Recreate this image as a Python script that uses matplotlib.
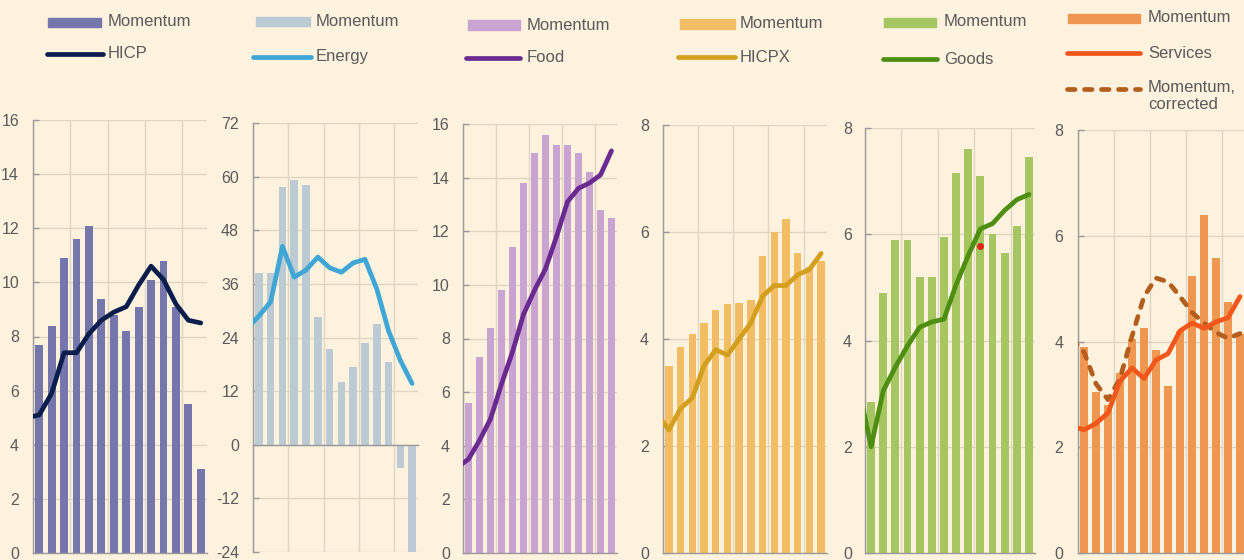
import numpy as np
import matplotlib
matplotlib.use("Agg")
import matplotlib.pyplot as plt
from matplotlib.lines import Line2D
from matplotlib.patches import Rectangle

plt.rcParams['font.family'] = ['Liberation Sans', 'DejaVu Sans']
plt.rcParams['axes.unicode_minus'] = False

# ---------------- data ----------------
months = ['Jan 22', 'Feb 22', 'Mar 22', 'Apr 22', 'May 22', 'Jun 22', 'Jul 22',
          'Aug 22', 'Sep 22', 'Oct 22', 'Nov 22', 'Dec 22', 'Jan 23', 'Feb 23']
line_months = ['Dec 21'] + months

hicp_momentum = [7.7, 8.4, 10.9, 11.6, 12.1, 9.4, 8.8, 8.2, 9.1, 10.1, 10.8, 9.1, 5.5, 3.1]
hicp = [5.0, 5.1, 5.9, 7.4, 7.4, 8.1, 8.6, 8.9, 9.1, 9.9, 10.6, 10.1, 9.2, 8.6, 8.5]

energy_momentum = [38.5, 38.5, 57.6, 59.3, 58.1, 28.5, 21.4, 14.0, 17.3, 22.7, 27.0, 18.5, -5.3, -25.0]
energy = [26.0, 28.8, 32.0, 44.4, 37.5, 39.1, 42.0, 39.6, 38.6, 40.7, 41.5, 34.9, 25.5, 18.9, 13.7]

food_momentum = [5.6, 7.3, 8.4, 9.8, 11.4, 13.8, 14.9, 15.6, 15.2, 15.2, 14.9, 14.2, 12.8, 12.5]
food = [3.2, 3.5, 4.2, 5.0, 6.3, 7.5, 8.9, 9.8, 10.6, 11.8, 13.1, 13.6, 13.8, 14.1, 15.0]

hicpx_momentum = [3.5, 3.85, 4.1, 4.3, 4.55, 4.65, 4.68, 4.73, 5.55, 6.0, 6.24, 5.6, 5.35, 5.45]
hicpx = [2.6, 2.3, 2.7, 2.9, 3.5, 3.8, 3.7, 4.0, 4.3, 4.8, 5.0, 5.0, 5.2, 5.3, 5.6]

goods_momentum = [2.85, 4.9, 5.9, 5.9, 5.2, 5.2, 5.95, 7.15, 7.6, 7.1, 6.0, 5.65, 6.15, 7.45]
goods = [3.1, 2.0, 3.05, 3.5, 3.9, 4.25, 4.35, 4.4, 5.05, 5.6, 6.1, 6.2, 6.45, 6.65, 6.75]
goods_marker_month = 'Oct 22'
goods_marker_value = 5.77

services_momentum = [3.9, 3.05, 2.8, 3.4, 4.05, 4.25, 3.84, 3.16, 4.2, 5.24, 6.39, 5.58, 4.74, 4.15]
services = [2.4, 2.33, 2.45, 2.65, 3.25, 3.5, 3.3, 3.65, 3.77, 4.2, 4.35, 4.25, 4.37, 4.45, 4.85]
services_momentum_corrected = [4.05, 3.8, 3.2, 2.9, 3.3, 4.1, 4.85, 5.2, 5.13, 4.85, 4.55, 4.35, 4.17, 4.06, 4.15]

# ---------------- style ----------------
W, H = 1244, 560
BG = '#FDF2DE'
GRID = '#DED6C2'
SPINE = '#9A9A9A'
TXT = '#5A5A5A'

fig = plt.figure(figsize=(W / 100, H / 100), dpi=100, facecolor=BG)

def px_axes(l, r, t, b):
    return fig.add_axes([l / W, 1 - b / H, (r - l) / W, (b - t) / H])

bar_x = np.arange(len(months))
line_x = np.array([line_months.index(m) - 1 for m in line_months])

panels = [
    dict(box=(33, 207, 120, 553), bars=hicp_momentum, line=hicp, bc='#7476AC', lc='#0B1E4B',
         ylim=(0, 16), yticks=np.arange(0, 17, 2), pad=10, zero=False),
    dict(box=(253, 418, 123, 552), bars=energy_momentum, line=energy, bc='#BCCAD4', lc='#3FA6D6',
         ylim=(-24, 72), yticks=np.arange(-24, 73, 12), pad=10, zero=True),
    dict(box=(463, 617, 124, 553), bars=food_momentum, line=food, bc='#CAA4D1', lc='#6A2A8F',
         ylim=(0, 16), yticks=np.arange(0, 17, 2), pad=9.5, zero=False),
    dict(box=(663, 827, 125, 553), bars=hicpx_momentum, line=hicpx, bc='#F3BD63', lc='#D39F1D',
         ylim=(0, 8), yticks=np.arange(0, 9, 2), pad=10, zero=False),
    dict(box=(865, 1035, 128, 553), bars=goods_momentum, line=goods, bc='#A5C661', lc='#4E8E10',
         ylim=(0, 8), yticks=np.arange(0, 9, 2), pad=9.5, zero=False),
    dict(box=(1078, 1246, 130, 553), bars=services_momentum, line=services, bc='#EE9751', lc='#F2561A',
         ylim=(0, 8), yticks=np.arange(0, 9, 2), pad=10.5, zero=False),
]

axes = []
for p in panels:
    ax = px_axes(*p['box'])
    ax.set_facecolor(BG)
    ax.set_axisbelow(True)
    ax.bar(bar_x, p['bars'], width=0.64, color=p['bc'], zorder=2)
    ax.plot(line_x, p['line'], color=p['lc'], lw=3.4, solid_capstyle='round',
            solid_joinstyle='round', zorder=4)
    ax.set_xlim(-0.5, len(months) - 0.5)
    ax.set_ylim(*p['ylim'])
    ax.set_yticks(p['yticks'])
    ax.set_yticklabels([str(int(v)) for v in p['yticks']])
    ax.set_xticks([-0.5, 2.5, 5.5, 8.5, 11.5])
    ax.set_xticks([5.5, 11.5], minor=True)
    ax.set_xticklabels([])
    ax.tick_params(axis='x', which='major', length=0)
    ax.tick_params(axis='x', which='minor', length=4, direction='out', color=SPINE, width=1)
    ax.tick_params(axis='y', direction='in', length=4, color=SPINE, width=1,
                   labelsize=11.5, labelcolor=TXT, pad=p['pad'])
    ax.grid(True, which='major', color=GRID, lw=1.0)
    for s in ('top', 'right'):
        ax.spines[s].set_visible(False)
    for s in ('left', 'bottom'):
        ax.spines[s].set_color(SPINE)
        ax.spines[s].set_linewidth(1.0)
    if p['zero']:
        ax.spines['bottom'].set_position(('data', 0))
    axes.append(ax)

# extra marks
axes[4].plot([months.index(goods_marker_month)], [goods_marker_value], 'o',
             color='#E0231B', ms=4, zorder=5)
axes[5].plot(line_x, services_momentum_corrected, color='#B45E1E', lw=3.4,
             linestyle=(0, (1.6, 2.0)), dash_capstyle='round', zorder=3)

# ---------------- legends ----------------
def fx(x):
    return x / W

def fy(y):
    return 1 - y / H

def leg_patch(x0, x1, y, color, h=9):
    fig.patches.append(Rectangle((fx(x0), fy(y + h / 2)), (x1 - x0) / W, h / H,
                                 transform=fig.transFigure, color=color))

def leg_line(x0, x1, y, color, ls='-'):
    ln = Line2D([fx(x0), fx(x1)], [fy(y), fy(y)], transform=fig.transFigure,
                color=color, lw=3.4, solid_capstyle='round', dash_capstyle='round',
                linestyle=ls)
    fig.add_artist(ln)

def leg_text(x, y, s, va='center'):
    fig.text(fx(x), fy(y), s, ha='left', va=va, fontsize=12, color=TXT)

legend_items = [
    (48, 101, 22, 108, 'Momentum', 'patch', panels[0]['bc']),
    (47, 103, 54, 108, 'HICP', 'line', panels[0]['lc']),
    (256, 310, 21, 316, 'Momentum', 'patch', panels[1]['bc']),
    (253, 311, 57, 316, 'Energy', 'line', panels[1]['lc']),
    (468, 520, 25, 527, 'Momentum', 'patch', panels[2]['bc']),
    (466, 520, 58, 527, 'Food', 'line', panels[2]['lc']),
    (680, 735, 24, 740, 'Momentum', 'patch', panels[3]['bc']),
    (678, 735, 57, 740, 'HICPX', 'line', panels[3]['lc']),
    (884, 936, 22, 944, 'Momentum', 'patch', panels[4]['bc']),
    (883, 937, 59, 944, 'Goods', 'line', panels[4]['lc']),
    (1068, 1140, 18, 1148, 'Momentum', 'patch', panels[5]['bc']),
    (1067, 1140, 53, 1148, 'Services', 'line', panels[5]['lc']),
]
for x0, x1, y, tx, label, kind, color in legend_items:
    if kind == 'patch':
        leg_patch(x0, x1, y, color)
    else:
        leg_line(x0, x1, y, color)
    leg_text(tx, y, label)

leg_line(1067, 1140, 89, '#B45E1E', ls=(0, (1.6, 2.0)))
fig.text(fx(1148), fy(80), 'Momentum,\ncorrected', ha='left', va='top', fontsize=12,
         color=TXT, linespacing=1.15)

fig.savefig('out.png', dpi=100, facecolor=BG)
